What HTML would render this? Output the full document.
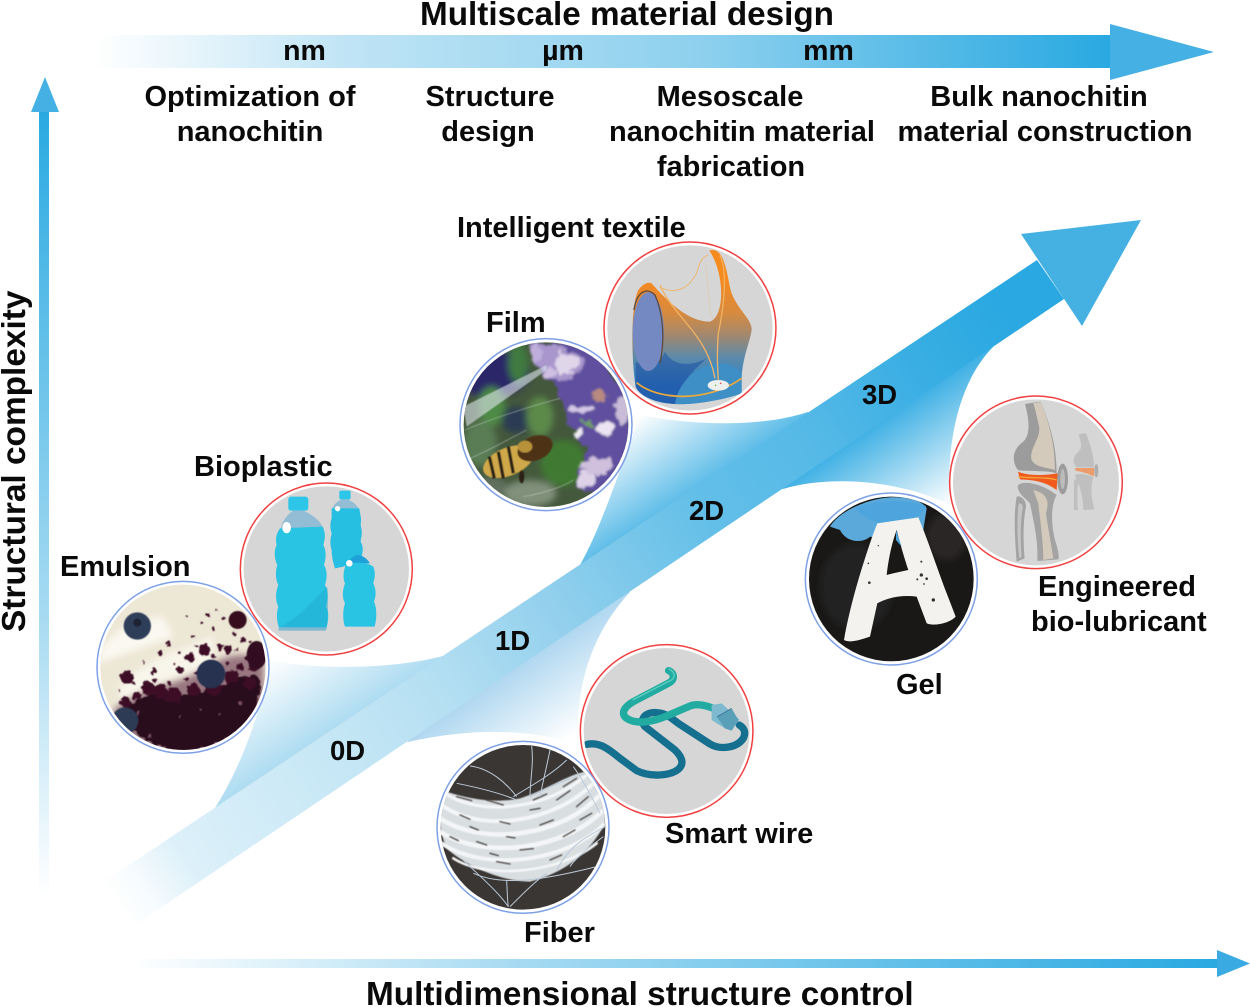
<!DOCTYPE html>
<html lang="en">
<head>
<meta charset="utf-8">
<title>Multiscale material design</title>
<style>
html,body{margin:0;padding:0;background:#fff;width:1250px;height:1007px;overflow:hidden}
svg{display:block}
text{font-family:"Liberation Sans",Arial,sans-serif;font-weight:700;fill:#0a0a0a}
.l{font-size:29px}
.c{text-anchor:middle}
.d{font-size:27.5px}
</style>
</head>
<body>
<svg width="1250" height="1007" viewBox="0 0 1250 1007" xmlns="http://www.w3.org/2000/svg">
<defs>
<linearGradient id="gTop" gradientUnits="userSpaceOnUse" x1="95" y1="0" x2="1110" y2="0">
<stop offset="0" stop-color="#fff"/><stop offset=".25" stop-color="#bfe4f5"/><stop offset=".6" stop-color="#8dd0ee"/><stop offset="1" stop-color="#29a9e1"/></linearGradient>
<linearGradient id="gLeft" gradientUnits="userSpaceOnUse" x1="0" y1="895" x2="0" y2="110">
<stop offset="0" stop-color="#fff"/><stop offset=".35" stop-color="#a8dbf2"/><stop offset="1" stop-color="#29a9e1"/></linearGradient>
<linearGradient id="gBot" gradientUnits="userSpaceOnUse" x1="130" y1="0" x2="1218" y2="0">
<stop offset="0" stop-color="#fff"/><stop offset=".35" stop-color="#a8dbf2"/><stop offset="1" stop-color="#29a9e1"/></linearGradient>
<linearGradient id="gMain" gradientUnits="userSpaceOnUse" x1="110" y1="905" x2="1050" y2="275">
<stop offset="0" stop-color="#fff"/><stop offset=".03" stop-color="#f8fcfe"/><stop offset=".08" stop-color="#dcf0f9"/><stop offset=".25" stop-color="#c4e6f5"/><stop offset=".35" stop-color="#b4dff2"/><stop offset=".47" stop-color="#93d0ed"/><stop offset=".63" stop-color="#63bfe8"/><stop offset=".745" stop-color="#55b9e7"/><stop offset=".857" stop-color="#39aee3"/><stop offset=".95" stop-color="#2aa8e1"/></linearGradient>
<linearGradient id="wA" gradientUnits="userSpaceOnUse" x1="270" y1="660" x2="321" y2="737">
<stop offset="0" stop-color="#fff"/><stop offset="1" stop-color="#aedcf1"/></linearGradient>
<linearGradient id="wB" gradientUnits="userSpaceOnUse" x1="575" y1="735" x2="525" y2="661">
<stop offset="0" stop-color="#fff"/><stop offset="1" stop-color="#afd7f0"/></linearGradient>
<linearGradient id="wC" gradientUnits="userSpaceOnUse" x1="640" y1="415" x2="691" y2="491">
<stop offset="0" stop-color="#fff"/><stop offset="1" stop-color="#5fbde8"/></linearGradient>
<linearGradient id="wD" gradientUnits="userSpaceOnUse" x1="950" y1="505" x2="890" y2="415">
<stop offset="0" stop-color="#fff"/><stop offset="1" stop-color="#3fb0e4"/></linearGradient>
<linearGradient id="vest" gradientUnits="userSpaceOnUse" x1="0" y1="150" x2="0" y2="430">
<stop offset="0" stop-color="#f58a1f"/><stop offset=".35" stop-color="#d88a3e"/><stop offset=".6" stop-color="#a08870"/><stop offset=".82" stop-color="#5f8aa8"/><stop offset="1" stop-color="#3f86bc"/></linearGradient>
<linearGradient id="vestD" gradientUnits="userSpaceOnUse" x1="0" y1="370" x2="0" y2="470">
<stop offset="0" stop-color="#3c6ea6"/><stop offset="1" stop-color="#225fae"/></linearGradient>
<filter id="b1" x="-20%" y="-20%" width="140%" height="140%"><feGaussianBlur stdDeviation="1.5"/></filter>
<filter id="b3" x="-30%" y="-30%" width="160%" height="160%"><feGaussianBlur stdDeviation="5"/></filter>
<filter id="b8" x="-40%" y="-40%" width="180%" height="180%"><feGaussianBlur stdDeviation="10"/></filter>
<filter id="rough" x="-10%" y="-10%" width="120%" height="120%">
<feTurbulence type="fractalNoise" baseFrequency=".06" numOctaves="3" seed="4" result="n"/>
<feDisplacementMap in="SourceGraphic" in2="n" scale="20" xChannelSelector="R" yChannelSelector="G"/>
<feGaussianBlur stdDeviation="1.5"/></filter>
<filter id="roughB" x="-10%" y="-10%" width="120%" height="120%">
<feTurbulence type="fractalNoise" baseFrequency=".03" numOctaves="3" seed="9" result="n"/>
<feDisplacementMap in="SourceGraphic" in2="n" scale="40" xChannelSelector="R" yChannelSelector="G"/>
<feGaussianBlur stdDeviation="3.5"/></filter>
<clipPath id="c1"><circle cx="309" cy="652" r="248"/></clipPath>
<clipPath id="c2"><circle cx="739" cy="357" r="248"/></clipPath>
<clipPath id="c3"><circle cx="348" cy="584" r="247"/></clipPath>
<clipPath id="c4"><circle cx="780" cy="294" r="248"/></clipPath>
<clipPath id="c5"><circle cx="304" cy="597" r="247"/></clipPath>
<clipPath id="c6"><circle cx="738" cy="307" r="249"/></clipPath>
<clipPath id="c7"><circle cx="279" cy="562" r="247"/></clipPath>
<clipPath id="c8"><circle cx="710" cy="273" r="249"/></clipPath>
</defs>

<rect width="1250" height="1007" fill="#fff"/>

<!-- top arrow -->
<rect x="95" y="35" width="1016" height="33" fill="url(#gTop)"/>
<polygon points="1110,24 1214,52 1110,80" fill="#45b0e3"/>
<!-- left arrow -->
<rect x="39" y="110" width="10" height="785" fill="url(#gLeft)"/>
<polygon points="31,112 45,77 59,112" fill="#45b0e3"/>
<!-- bottom arrow -->
<rect x="130" y="959" width="1088" height="9" fill="url(#gBot)"/>
<polygon points="1217,950 1250,963.5 1217,977" fill="#3aabe2"/>

<!-- wings (under band) -->
<path d="M270 660 C300 668 385 672 447 655 L470 680 L240 830 L213 811 C240 770 262 710 270 660Z" fill="url(#wA)"/>
<path d="M408 742 C470 728 530 728 578 745 C575 680 595 630 630 592 L600 570 L390 720Z" fill="url(#wB)"/>
<path d="M640 415 C690 425 760 428 808 412 L830 430 L600 590 L580 565 C600 530 620 470 640 415Z" fill="url(#wC)"/>
<path d="M783 489 C830 475 900 480 950 505 C945 430 965 375 993 347 L975 325 L760 470Z" fill="url(#wD)"/>

<!-- main arrow -->
<polygon points="105,881 1037,260 1064,299 135,925" fill="url(#gMain)"/>
<polygon points="1021,234 1141,220 1082,326" fill="#45b0e2"/>

<!-- Bioplastic -->
<g transform="translate(80,450) scale(.3333)">
<circle cx="739" cy="357" r="258" fill="#fff" stroke="#f04040" stroke-width="4.5"/>
<g clip-path="url(#c2)">
<rect x="480" y="100" width="520" height="520" fill="#d6d6d6"/>
<rect x="778" y="122" width="34" height="26" rx="5" fill="#2ec6e8"/>
<path d="M785 148 L805 148 C825 160 835 170 838 180 L755 180 C760 165 770 155 785 148Z" fill="#92bdd4"/>
<path d="M755 175 L838 175 C842 200 845 205 842 225 C848 250 845 255 842 275 C850 290 850 300 845 320 L790 350 L765 355 C760 340 755 320 755 300 C750 285 750 270 755 250 C750 235 750 220 755 205Z" fill="#26bfe2"/>
<circle cx="773" cy="176" r="8" fill="#fff"/>
<rect x="625" y="140" width="60" height="42" rx="8" fill="#2ec6e8"/>
<path d="M640 182 L670 182 C700 195 722 215 728 232 L600 245 C605 215 620 195 640 182Z" fill="#92bdd4"/>
<path d="M600 235 L728 230 C735 245 738 260 730 285 C738 300 740 320 732 345 C742 360 742 385 735 405 C745 420 745 445 738 470 C748 485 746 515 738 540 L600 540 C590 520 588 490 595 470 C585 450 587 425 595 405 C585 385 587 360 592 345 C582 325 582 300 590 285 C585 265 590 250 600 235Z" fill="#29c4e4"/>
<path d="M600 530 C650 510 700 450 742 410 C745 440 746 500 738 540Z" fill="#22a8cc" opacity=".45"/>
<rect x="596" y="532" width="142" height="10" fill="#7fb8d0"/>
<ellipse cx="620" cy="233" rx="13" ry="17" fill="#fff"/>
<path d="M805 340 C820 305 850 310 870 340Z" fill="#1ea0d8"/>
<path d="M797 345 C820 335 860 335 880 350 C888 370 884 385 880 400 C890 420 888 440 882 455 C892 475 890 510 884 530 L795 530 C788 510 788 480 795 460 C785 440 788 420 795 400 C788 385 790 365 797 345Z" fill="#29c4e4"/>
<circle cx="808" cy="340" r="10" fill="#fff"/>
</g>
</g>

<!-- Emulsion -->
<g transform="translate(80,450) scale(.3333)">
<circle cx="309" cy="652" r="258" fill="#fff" stroke="#7da0e6" stroke-width="4.5"/>
<g clip-path="url(#c1)">
<rect x="50" y="390" width="520" height="520" fill="#ede7d6"/>
<path d="M60 600 C110 530 170 510 250 500 L280 560 C200 590 130 610 60 640Z" fill="#faf8f0" filter="url(#b8)"/>
<path d="M120 700 C220 620 300 600 400 560 L400 650 C300 680 200 700 120 760Z" fill="#f8f5ea" filter="url(#b8)"/>
<path d="M100 780 C200 700 300 710 380 650 C450 610 500 600 550 640 L560 920 L120 920Z" fill="#6a3a52" opacity=".65" filter="url(#b8)"/>
<g filter="url(#rough)">
<path d="M125 790 C180 730 240 715 300 740 C350 720 400 725 460 690 C500 670 530 670 545 690 L525 790 C480 850 400 900 310 905 C230 900 165 860 125 790Z" fill="#2a0e1d"/>
<g fill="#3e1026">
<circle cx="142" cy="682" r="20"/><circle cx="298" cy="660" r="11"/><circle cx="330" cy="622" r="14"/><circle cx="240" cy="610" r="7"/><circle cx="265" cy="580" r="4"/><circle cx="300" cy="610" r="5"/><circle cx="375" cy="600" r="18"/><circle cx="400" cy="535" r="7"/><circle cx="385" cy="495" r="5"/><circle cx="420" cy="590" r="10"/><circle cx="445" cy="600" r="12"/><circle cx="490" cy="570" r="8"/><circle cx="510" cy="575" r="5"/><circle cx="220" cy="665" r="7"/><circle cx="205" cy="715" r="20"/><circle cx="135" cy="760" r="17"/><circle cx="240" cy="725" r="22"/><circle cx="280" cy="735" r="24"/><circle cx="520" cy="650" r="14"/><circle cx="480" cy="650" r="12"/><circle cx="455" cy="680" r="20"/><circle cx="340" cy="720" r="20"/><circle cx="430" cy="505" r="5"/><circle cx="365" cy="520" r="5"/><circle cx="340" cy="560" r="5"/><circle cx="460" cy="550" r="6"/><circle cx="190" cy="640" r="4"/><circle cx="350" cy="670" r="7"/><circle cx="410" cy="480" r="3"/><circle cx="320" cy="500" r="3"/><circle cx="280" cy="640" r="4"/><circle cx="170" cy="735" r="14"/><circle cx="400" cy="715" r="22"/><circle cx="510" cy="700" r="18"/><circle cx="120" cy="720" r="4"/><circle cx="270" cy="700" r="6"/><circle cx="225" cy="690" r="5"/><circle cx="440" cy="640" r="6"/><circle cx="400" cy="620" r="5"/><circle cx="500" cy="625" r="6"/><circle cx="350" cy="590" r="4"/><circle cx="470" cy="600" r="4"/><circle cx="320" cy="690" r="5"/><circle cx="160" cy="700" r="4"/>
</g>
<g fill="#7a5066"><circle cx="210" cy="860" r="6"/><circle cx="175" cy="790" r="4"/><circle cx="300" cy="800" r="3"/><circle cx="420" cy="790" r="4"/><circle cx="480" cy="760" r="5"/><circle cx="360" cy="780" r="3"/></g>
</g>
<g filter="url(#b1)">
<circle cx="473" cy="510" r="27" fill="#36101f"/>
<ellipse cx="530" cy="615" rx="30" ry="42" fill="#301020"/>
<circle cx="172" cy="528" r="41" fill="#2f3c58"/>
<circle cx="172" cy="518" r="12" fill="#1a2030"/>
<circle cx="393" cy="672" r="43" fill="#27334f"/>
<circle cx="135" cy="812" r="40" fill="#2d3a55"/>
</g>
</g>
</g>

<!-- Textile -->
<g transform="translate(430,230) scale(.3333)">
<circle cx="780" cy="294" r="258" fill="#fff" stroke="#f04040" stroke-width="4.5"/>
<g clip-path="url(#c4)">
<rect x="520" y="40" width="520" height="520" fill="#d6d6d6"/>
<path d="M625 180 C640 160 655 155 665 160 C705 205 770 275 840 275 C885 260 885 130 838 62 C855 55 870 65 880 90 C895 130 895 160 905 190 C925 240 962 265 965 295 C965 325 940 370 935 440 L935 490 C880 510 790 525 735 522 C680 520 630 500 617 470 C605 400 600 230 625 180Z" fill="url(#vest)"/>
<path d="M617 395 C660 420 690 400 705 365 C730 410 780 410 830 385 C780 430 745 470 735 522 C680 520 630 500 617 470Z" fill="url(#vestD)"/>
<path d="M735 522 C745 460 790 415 850 402 C890 395 920 410 935 432 L935 490 C880 510 790 525 735 522Z" fill="#3e8fc6"/>
<ellipse cx="655" cy="305" rx="47" ry="118" fill="#7488c2"/>
<path d="M612 240 C620 185 650 170 675 195 C700 250 705 330 690 400" fill="none" stroke="#5d4a40" stroke-width="4"/>
<g fill="none" stroke="#f1b263" stroke-width="4">
<path d="M690 165 C730 260 830 310 855 445"/>
<path d="M870 75 C895 130 880 240 865 310 C860 370 862 410 865 450"/>
<path d="M690 172 C730 190 770 185 800 130 C810 90 820 80 835 75" stroke-width="2.5"/>
<path d="M825 100 C840 180 830 230 850 270" stroke-width="1.5" opacity=".5"/>
<path d="M620 458 C680 510 830 520 935 445" stroke="#eda93c" stroke-width="5"/>
</g>
<ellipse cx="865" cy="466" rx="32" ry="16" fill="#eef0ee"/>
<circle cx="857" cy="466" r="2.5" fill="#7ab648"/><circle cx="872" cy="460" r="2.5" fill="#e05050"/>
</g>
</g>

<!-- Film -->
<g transform="translate(430,230) scale(.3333)">
<circle cx="348" cy="584" r="258" fill="#fff" stroke="#7da0e6" stroke-width="4.5"/>
<g clip-path="url(#c3)">
<rect x="90" y="320" width="520" height="530" fill="#44583c"/>
<g filter="url(#b8)">
<ellipse cx="180" cy="430" rx="120" ry="70" fill="#2c2868"/>
<ellipse cx="265" cy="400" rx="30" ry="60" fill="#3f7a40"/>
<ellipse cx="185" cy="530" rx="40" ry="60" fill="#4d8a45"/>
<ellipse cx="150" cy="640" rx="50" ry="70" fill="#5a7d55"/>
<ellipse cx="260" cy="570" rx="45" ry="40" fill="#2b3a52"/>
<ellipse cx="330" cy="560" rx="40" ry="60" fill="#5b8a4a"/>
<ellipse cx="400" cy="700" rx="70" ry="70" fill="#3f7a30"/>
<ellipse cx="300" cy="790" rx="80" ry="40" fill="#80907a"/>
<ellipse cx="180" cy="770" rx="50" ry="30" fill="#60705f"/>
</g>
<g filter="url(#roughB)">
<path d="M300 340 L490 350 L610 520 L590 700 L500 800 L440 760 L470 660 L410 560 L380 470 L330 430Z" fill="#5f4f9e"/>
<path d="M300 350 C340 340 430 350 460 390 C450 440 400 460 360 450 C340 420 300 400 300 350Z" fill="#a896cc"/>
<ellipse cx="410" cy="400" rx="35" ry="32" fill="#e0d6ea"/>
<ellipse cx="360" cy="430" rx="22" ry="16" fill="#cfc0e2"/>
<ellipse cx="320" cy="370" rx="16" ry="25" fill="#bfaedc"/>
<ellipse cx="450" cy="540" rx="42" ry="14" fill="#d4c8e6"/>
<ellipse cx="510" cy="500" rx="22" ry="18" fill="#b88a80"/>
<ellipse cx="520" cy="595" rx="26" ry="20" fill="#ece4f2"/>
<ellipse cx="450" cy="610" rx="16" ry="12" fill="#f0eaf4"/>
<ellipse cx="468" cy="578" rx="20" ry="10" fill="#6f9a6a"/>
<ellipse cx="500" cy="710" rx="50" ry="26" fill="#d0c0de"/>
<ellipse cx="470" cy="750" rx="26" ry="20" fill="#ddd2e8"/>
<ellipse cx="575" cy="540" rx="18" ry="45" fill="#c8bcd8"/>
</g>
<polygon points="100,530 350,405 350,420 110,590" fill="#dfe7ee" opacity=".6" filter="url(#b1)"/>
<g stroke="#e4e8ea" fill="none" stroke-width="2.5" opacity=".45" filter="url(#b1)">
<path d="M105 600 C200 560 300 530 390 505"/><path d="M110 690 C200 650 250 620 290 600"/><path d="M280 800 C340 790 400 770 430 750"/>
</g>
<g filter="url(#b1)">
<ellipse cx="235" cy="695" rx="80" ry="42" transform="rotate(-22 235 695)" fill="#cfa848"/>
<g stroke="#2c2418" stroke-width="10"><line x1="205" y1="665" x2="220" y2="745"/><line x1="235" y1="650" x2="250" y2="730"/><line x1="178" y1="680" x2="193" y2="745"/></g>
<ellipse cx="315" cy="655" rx="55" ry="36" transform="rotate(-22 315 655)" fill="#4e3218"/>
<ellipse cx="285" cy="650" rx="22" ry="18" fill="#b8923a"/>
<ellipse cx="275" cy="740" rx="8" ry="20" fill="#2c2418"/>
</g>
</g>
</g>

<!-- Lubricant -->
<g transform="translate(790,380) scale(.3333)">
<circle cx="738" cy="307" r="259" fill="#fff" stroke="#f04040" stroke-width="4.5"/>
<g clip-path="url(#c6)">
<rect x="477" y="47" width="520" height="520" fill="#d6d6d6"/>
<path d="M705 72 L752 65 C775 120 800 190 800 280 C770 270 700 275 684 270 C665 245 665 210 700 185 C725 160 715 110 705 72Z" fill="#9c9c9c"/>
<path d="M730 70 L752 66 C775 120 795 190 795 270 C770 262 735 262 725 240 C715 205 760 170 745 130 C740 105 735 85 730 70Z" fill="#d3cabb"/>
<path d="M684 275 C720 290 770 285 803 280 L800 330 C760 300 720 300 690 298Z" fill="#f05a1c"/>
<path d="M685 290 C730 296 770 290 800 300" stroke="#f4a63c" stroke-width="4" fill="none"/>
<ellipse cx="818" cy="297" rx="16" ry="46" fill="#9c9c9c"/>
<ellipse cx="818" cy="297" rx="7" ry="30" fill="#bcbcbc"/>
<path d="M683 320 C685 300 750 305 800 345 C780 380 785 440 795 480 C805 510 808 530 805 538 L742 543 C745 480 730 420 720 370 C700 350 685 340 683 320Z" fill="#a3a3a3"/>
<path d="M730 330 C770 340 780 360 768 400 C775 450 785 500 790 535 L760 540 C760 480 750 420 745 370Z" fill="#d3cabb"/>
<path d="M680 350 C695 345 710 365 708 380 C698 430 700 490 704 535 L680 545 C675 480 670 410 680 350Z" fill="#a3a3a3"/>
<path d="M686 370 C695 370 700 375 698 385 C690 430 692 490 695 530 L688 535 C682 480 680 420 686 370Z" fill="#c5c5c5"/>
<g opacity=".7">
<path d="M866 162 L888 160 C900 190 912 225 912 262 L860 262 C845 245 848 230 870 210 C878 195 870 180 866 162Z" fill="#b5b5b5"/>
<path d="M856 264 L912 264 L912 290 C890 278 870 275 856 272Z" fill="#f5843c"/>
<ellipse cx="919" cy="272" rx="6" ry="20" fill="#9c9c9c"/>
<path d="M855 285 C870 278 900 285 910 292 C900 320 905 360 913 388 L880 390 C880 350 870 320 860 300Z" fill="#b5b5b5"/>
<path d="M852 298 L866 300 C860 330 862 360 864 390 L852 390Z" fill="#b5b5b5"/>
</g>
</g>
</g>

<!-- Gel -->
<g transform="translate(790,380) scale(.3333)">
<circle cx="304" cy="597" r="258" fill="#fff" stroke="#7da0e6" stroke-width="4.5"/>
<g clip-path="url(#c5)">
<rect x="45" y="340" width="520" height="520" fill="#191817"/>
<ellipse cx="200" cy="620" rx="110" ry="130" fill="#242322" filter="url(#b8)"/>
<ellipse cx="470" cy="470" rx="60" ry="70" fill="#2a2827" filter="url(#b8)"/>
<path d="M120 440 C150 390 240 355 300 352 C360 350 400 365 410 385 L400 450 L330 490 L240 470 C220 490 170 490 150 450Z" fill="#5aa9da"/>
<path d="M195 385 C240 360 350 355 408 378 C390 420 340 435 290 430 C250 430 220 410 195 385Z" fill="#4ea5de"/>
<path d="M262 430 L385 412 C410 470 440 560 470 640 L497 710 C480 730 430 740 410 730 L380 650 C340 645 300 650 262 670 L240 770 C210 780 180 790 162 780 C170 730 190 650 205 600 C220 550 245 470 262 430Z" fill="#f3f2ee"/>
<path d="M320 450 C330 490 345 540 355 570 C330 575 310 580 290 585 C295 540 305 490 320 450Z" fill="#191817"/>
<path d="M318 450 L335 500 L318 480Z" fill="#4ea5de"/>
<g fill="#35302c"><circle cx="394" cy="585" r="5"/><circle cx="394" cy="545" r="3"/><circle cx="410" cy="596" r="4"/><circle cx="430" cy="660" r="5"/><circle cx="382" cy="598" r="3"/><circle cx="235" cy="550" r="2.5"/><circle cx="238" cy="608" r="4"/><circle cx="265" cy="497" r="2"/><circle cx="402" cy="612" r="2.5"/></g>
</g>
</g>

<!-- Wire -->
<g transform="translate(430,640) scale(.3333)">
<circle cx="710" cy="273" r="259" fill="#fff" stroke="#f04040" stroke-width="4.5"/>
<g clip-path="url(#c8)">
<rect x="450" y="13" width="520" height="520" fill="#d6d6d6"/>
<path d="M472 313 C510 305 540 330 570 355 L620 392 C660 412 720 408 745 388 C765 370 755 350 735 330 L645 260 C625 235 650 215 680 218 C710 220 725 235 745 250 L840 312 C870 330 920 325 940 295 C950 275 940 262 928 255" fill="none" stroke="#15708f" stroke-width="22" stroke-linecap="round"/>
<path d="M716 92 C735 100 735 120 715 130 L610 185 C575 205 575 225 590 235 C620 255 670 245 710 228 L780 198 C800 190 825 195 850 205" fill="none" stroke="#22aba0" stroke-width="22" stroke-linecap="round"/>
<path d="M716 86 C742 100 735 118 712 126 L608 180" fill="none" stroke="#5ccfc0" stroke-width="4"/>
<polygon points="845,195 875,190 928,238 905,272 885,265 845,240" fill="#7db9cf"/>
<polygon points="860,230 905,205 925,240 905,272 885,265" fill="#5a9fb8"/>
<line x1="862" y1="230" x2="905" y2="205" stroke="#2e6e86" stroke-width="2"/>
</g>
</g>

<!-- Fiber -->
<g transform="translate(430,640) scale(.3333)">
<circle cx="279" cy="562" r="258" fill="#fff" stroke="#7da0e6" stroke-width="4.5"/>
<g clip-path="url(#c7)">
<rect x="20" y="300" width="520" height="530" fill="#3a3633"/>
<path d="M35 450 C120 480 200 490 270 475 C340 455 420 400 470 395 C505 430 530 500 525 550 C480 640 400 700 300 725 C220 725 110 680 50 625 C25 570 25 500 35 450Z" fill="#d9dee1" filter="url(#b1)"/>
<g fill="none" stroke="#f3f5f6" stroke-linecap="round" filter="url(#b1)">
<path d="M45 460 C150 530 350 510 470 405" stroke-width="10"/>
<path d="M35 495 C150 580 370 550 490 430" stroke-width="12"/>
<path d="M30 535 C160 620 390 590 505 470" stroke-width="14"/>
<path d="M30 575 C160 660 400 630 515 515" stroke-width="14"/>
<path d="M35 610 C160 695 400 670 520 555" stroke-width="12"/>
<path d="M70 655 C170 720 390 700 500 610" stroke-width="8"/>
</g>
<g stroke="#3a3633" stroke-width="4" stroke-linecap="round" opacity=".9" filter="url(#b1)">
<line x1="80" y1="470" x2="125" y2="482"/><line x1="90" y1="525" x2="120" y2="538"/><line x1="210" y1="545" x2="240" y2="552"/><line x1="330" y1="555" x2="370" y2="540"/><line x1="140" y1="605" x2="170" y2="615"/><line x1="270" y1="630" x2="310" y2="626"/><line x1="400" y1="590" x2="435" y2="570"/><line x1="170" y1="480" x2="220" y2="495"/><line x1="310" y1="480" x2="350" y2="462"/><line x1="400" y1="440" x2="440" y2="415"/><line x1="200" y1="665" x2="240" y2="672"/><line x1="360" y1="660" x2="395" y2="645"/><line x1="60" y1="590" x2="85" y2="602"/><line x1="380" y1="480" x2="420" y2="452"/><line x1="440" y1="500" x2="475" y2="470"/><line x1="230" y1="590" x2="255" y2="594"/><line x1="120" y1="560" x2="145" y2="570"/><line x1="300" y1="510" x2="330" y2="505"/><line x1="350" y1="420" x2="385" y2="405"/><line x1="450" y1="540" x2="485" y2="520"/><line x1="180" y1="640" x2="205" y2="647"/>
</g>
<g fill="none" stroke="#bccad8" stroke-width="3">
<path d="M305 318 C312 370 300 420 300 470"/><path d="M360 330 C350 380 340 420 330 470"/><path d="M120 378 C180 385 230 430 260 470"/><path d="M80 430 C130 440 200 455 260 480"/><path d="M410 360 C370 400 300 440 250 470"/><path d="M100 660 C150 710 200 750 235 800"/><path d="M240 800 C280 760 320 720 350 700"/><path d="M230 720 C232 760 232 780 235 800"/><path d="M130 700 C220 740 340 720 500 680"/><path d="M430 380 C460 420 490 480 510 520"/><path d="M520 590 C480 620 440 650 420 680"/><path d="M470 400 C400 420 340 450 300 470"/><path d="M525 560 C450 600 420 620 380 690"/>
</g>
</g>
</g>

<!-- Text -->
<text x="420" y="25" font-size="33" textLength="414" lengthAdjust="spacingAndGlyphs">Multiscale material design</text>
<text class="c" x="304.5" y="60" font-size="28.5">nm</text>
<text class="c" x="563" y="60" font-size="28.5">µm</text>
<text class="c" x="828.5" y="60" font-size="28.5">mm</text>

<text class="l c" x="250" y="106">Optimization of</text>
<text class="l c" x="250" y="141">nanochitin</text>
<text class="l c" x="490" y="106">Structure</text>
<text class="l c" x="488" y="141">design</text>
<text class="l c" x="730" y="106">Mesoscale</text>
<text class="l c" x="742" y="141">nanochitin material</text>
<text class="l c" x="731" y="176">fabrication</text>
<text class="l c" x="1039" y="106">Bulk nanochitin</text>
<text class="l c" x="1045" y="141">material construction</text>

<text class="l" x="457" y="237">Intelligent textile</text>
<text class="l" x="486" y="332">Film</text>
<text class="l" x="194" y="476">Bioplastic</text>
<text class="l" x="60" y="576">Emulsion</text>
<text class="l" x="1038" y="596">Engineered</text>
<text class="l" x="1031" y="631">bio-lubricant</text>
<text class="l" x="896" y="694">Gel</text>
<text class="l" x="665" y="843">Smart wire</text>
<text class="l" x="524" y="942">Fiber</text>

<text class="d" x="330" y="760">0D</text>
<text class="d" x="495" y="650">1D</text>
<text class="d" x="689" y="520">2D</text>
<text class="d" x="862" y="404">3D</text>

<text transform="translate(25,632) rotate(-90)" font-size="33.4">Structural complexity</text>
<text x="366" y="1005" font-size="33.3">Multidimensional structure control</text>
</svg>
</body>
</html>
